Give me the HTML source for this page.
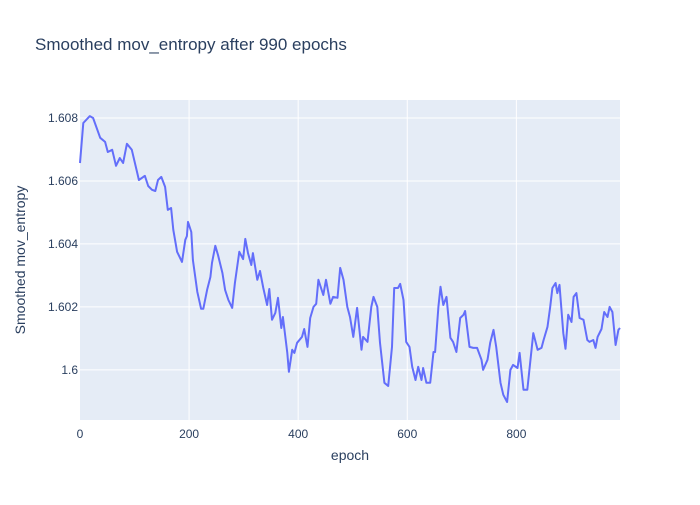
<!DOCTYPE html>
<html><head><meta charset="utf-8"><style>
body{margin:0;background:#fff;font-family:"Liberation Sans",sans-serif;}
svg text{font-family:"Liberation Sans",sans-serif;fill:#2a3f5f;}
</style></head><body>
<svg id="chart" width="700" height="500" xmlns="http://www.w3.org/2000/svg">
<rect width="700" height="500" fill="#fff"/>
<text x="35" y="50" font-size="17">Smoothed mov_entropy after 990 epochs</text>
<rect x="80" y="100" width="540" height="320" fill="#e5ecf6"/>
<g id="grid"></g><g id="ticks"></g>
<path id="line" fill="none" stroke="#636efa" stroke-width="2" stroke-linejoin="round"/>
<text x="350" y="460" font-size="14" text-anchor="middle">epoch</text>
<text transform="translate(25,260) rotate(-90)" font-size="14" text-anchor="middle">Smoothed mov_entropy</text>
</svg>
<script>
const epochs=[0,6,18,24,37,46,51,59,66,73,79,86,95,105,108,116,119,125,132,138,143,149,156,161,167,171,178,187,193,196,198,204,207,215,222,226,233,239,242,248,253,261,266,272,279,284,292,299,303,308,314,317,325,330,336,343,347,352,358,363,369,372,380,383,389,393,398,407,411,417,422,428,433,437,446,451,459,464,472,477,483,490,495,501,508,516,519,527,534,538,545,550,558,565,572,576,583,587,593,598,604,609,615,620,626,629,635,642,648,651,657,661,666,672,679,684,690,697,703,706,714,721,728,736,739,747,752,758,763,771,776,783,789,794,802,806,813,820,831,839,846,850,857,862,866,872,875,879,886,890,895,901,905,910,916,923,930,934,941,945,949,956,961,967,971,976,982,987,990];
const entropy=[1.60657,1.60784,1.60806,1.60800,1.60737,1.60724,1.60692,1.60699,1.60648,1.60673,1.60657,1.60718,1.60699,1.60625,1.60603,1.60613,1.60616,1.60584,1.60572,1.60568,1.60603,1.60613,1.60581,1.60508,1.60514,1.60445,1.60375,1.60343,1.60413,1.60425,1.60470,1.60438,1.60349,1.60248,1.60194,1.60194,1.60254,1.60295,1.60340,1.60394,1.60365,1.60308,1.60254,1.60222,1.60197,1.60276,1.60375,1.60352,1.60416,1.60371,1.60333,1.60371,1.60286,1.60314,1.60260,1.60206,1.60257,1.60159,1.60181,1.60229,1.60133,1.60168,1.60054,1.59994,1.60064,1.60054,1.60086,1.60105,1.60130,1.60073,1.60165,1.60200,1.60210,1.60286,1.60238,1.60286,1.60210,1.60232,1.60229,1.60324,1.60286,1.60200,1.60168,1.60105,1.60197,1.60064,1.60105,1.60089,1.60200,1.60232,1.60200,1.60086,1.59959,1.59949,1.60073,1.60260,1.60260,1.60273,1.60222,1.60089,1.60073,1.60010,1.59968,1.60010,1.59968,1.60006,1.59959,1.59959,1.60057,1.60057,1.60200,1.60264,1.60206,1.60232,1.60102,1.60089,1.60057,1.60165,1.60175,1.60187,1.60073,1.60070,1.60070,1.60032,1.60000,1.60032,1.60086,1.60127,1.60073,1.59959,1.59921,1.59898,1.60000,1.60016,1.60006,1.60054,1.59937,1.59937,1.60117,1.60064,1.60070,1.60095,1.60137,1.60200,1.60260,1.60276,1.60244,1.60270,1.60117,1.60067,1.60175,1.60152,1.60232,1.60244,1.60165,1.60159,1.60095,1.60089,1.60095,1.60070,1.60105,1.60130,1.60184,1.60168,1.60200,1.60184,1.60079,1.60127,1.60133];
const xTicks=[0,200,400,600,800];
const yTicks=[1.6,1.602,1.604,1.606,1.608];
const yTickLabels=["1.6","1.602","1.604","1.606","1.608"];
const X0=80,X1=620,Y0=420,Y1=100,xMin=0,xMax=990,yMin=1.59841,yMax=1.60857;
const sx=v=>X0+(v-xMin)/(xMax-xMin)*(X1-X0);
const sy=v=>Y0-(v-yMin)/(yMax-yMin)*(Y0-Y1);
const NS="http://www.w3.org/2000/svg";
const grid=document.getElementById('grid'),ticks=document.getElementById('ticks');
xTicks.forEach(t=>{
 if(t>0){const l=document.createElementNS(NS,'line');
 l.setAttribute('x1',sx(t));l.setAttribute('x2',sx(t));l.setAttribute('y1',Y1);l.setAttribute('y2',Y0);
 l.setAttribute('stroke','#fff');l.setAttribute('stroke-width','1');
 
 
 grid.appendChild(l);}
 const tx=document.createElementNS(NS,'text');
 tx.setAttribute('x',sx(t));tx.setAttribute('y',Y0+18);tx.setAttribute('font-size','12');tx.setAttribute('text-anchor','middle');
 tx.textContent=t;
 
 
 ticks.appendChild(tx);
});
yTicks.forEach((t,i)=>{
 const l=document.createElementNS(NS,'line');
 l.setAttribute('x1',X0);l.setAttribute('x2',X1);l.setAttribute('y1',sy(t));l.setAttribute('y2',sy(t));
 l.setAttribute('stroke','#fff');l.setAttribute('stroke-width','1');
 
 
 grid.appendChild(l);
 const tx=document.createElementNS(NS,'text');
 tx.setAttribute('x',X0-2);tx.setAttribute('y',sy(t)+4);tx.setAttribute('font-size','12');tx.setAttribute('text-anchor','end');
 tx.textContent=yTickLabels[i];
 
 
 ticks.appendChild(tx);
});
document.getElementById('line').setAttribute('d',epochs.map((e,i)=>(i?'L':'M')+sx(e).toFixed(1)+','+sy(entropy[i]).toFixed(1)).join(''));
</script>
</body></html>
